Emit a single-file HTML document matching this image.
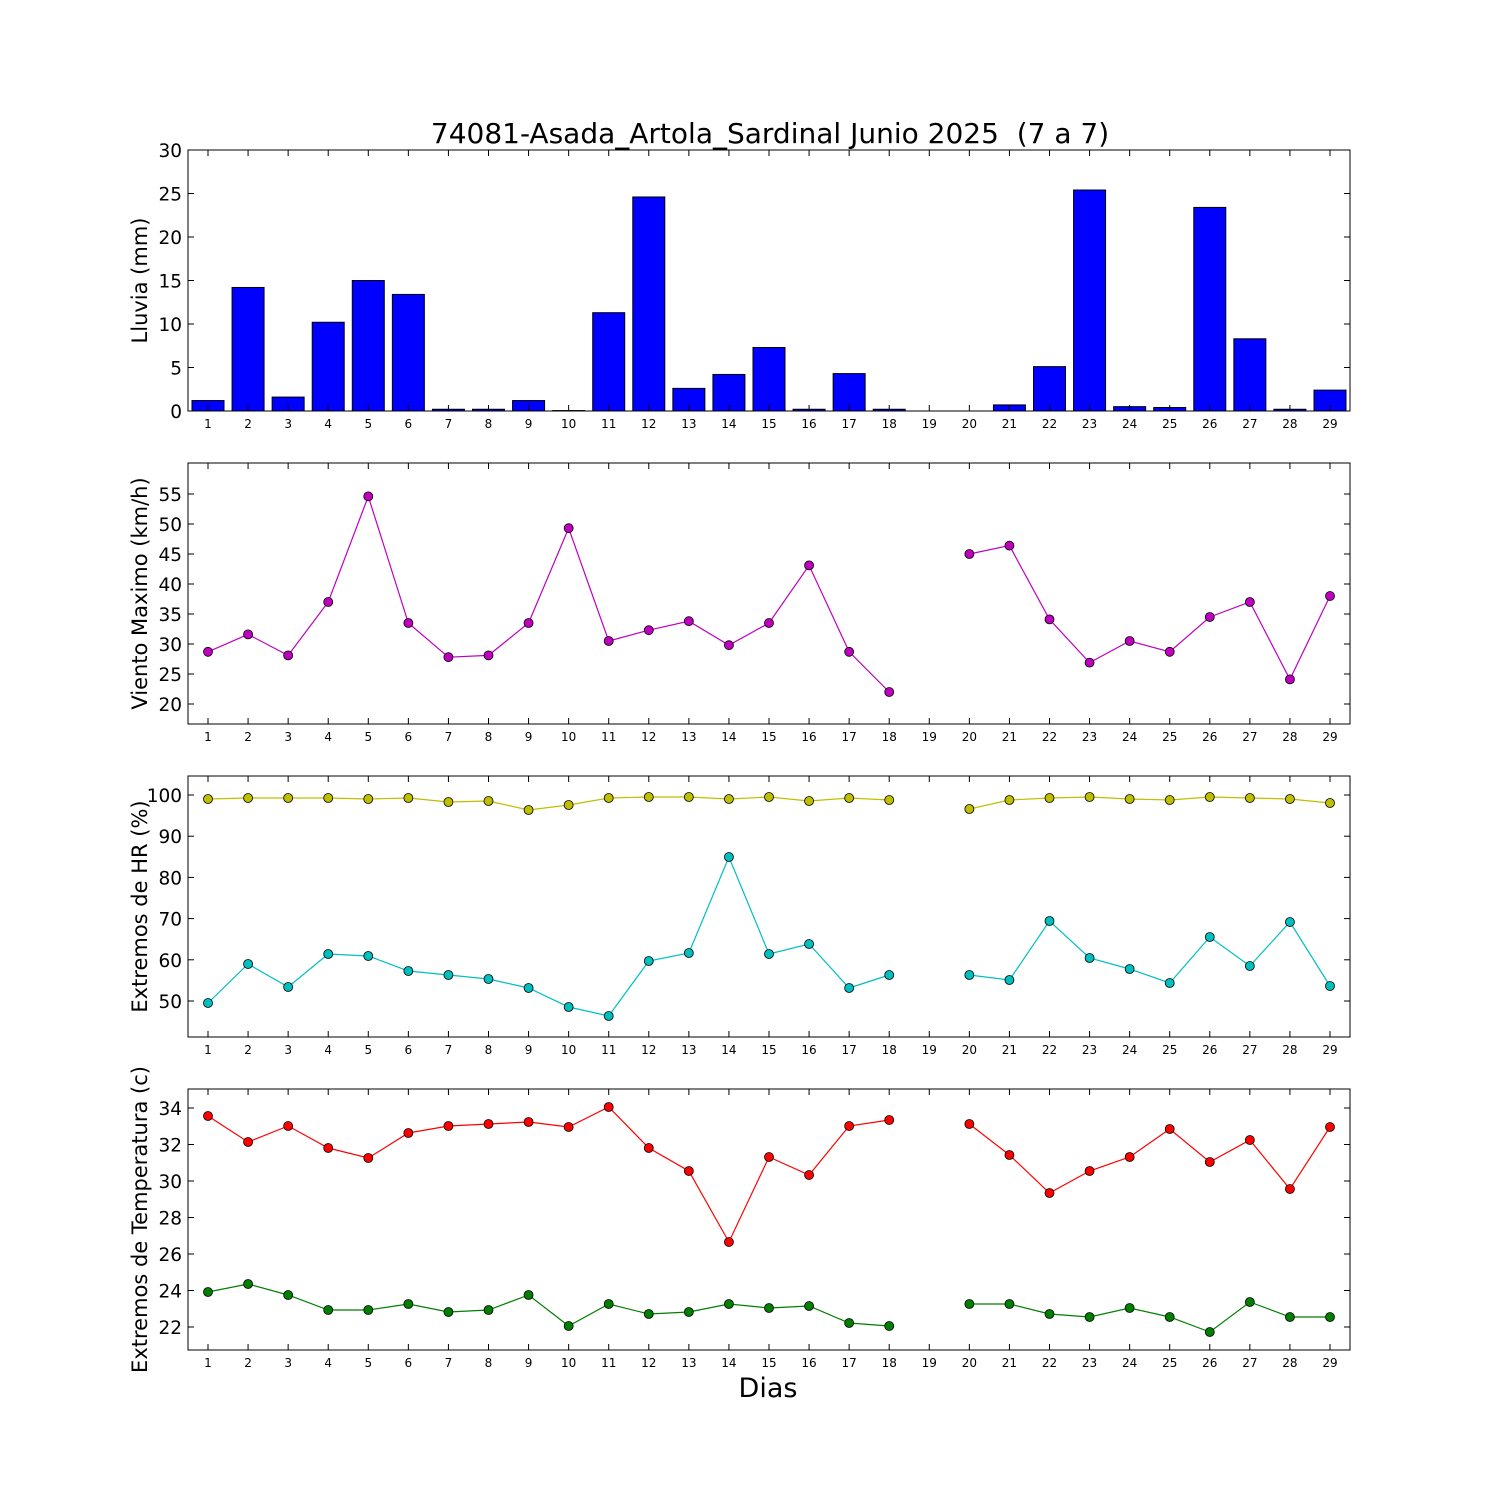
<!DOCTYPE html>
<html><head><meta charset="utf-8"><style>
html,body{margin:0;padding:0;background:#fff;}
svg{display:block;}
text{font-family:"DejaVu Sans","Liberation Sans",sans-serif;fill:#000;}
</style></head><body>
<svg id="s" width="1500" height="1500" xmlns="http://www.w3.org/2000/svg">
<rect width="1500" height="1500" fill="#fff"/>
<text x="770" y="143" font-size="28" text-anchor="middle">74081-Asada_Artola_Sardinal Junio 2025 &#160;(7 a 7)</text>
<text x="768" y="1397" font-size="27" text-anchor="middle">Dias</text>
</svg>
<script>
var s=document.getElementById('s'),NS='http://www.w3.org/2000/svg';
function el(t,a,txt){var e=document.createElementNS(NS,t);for(var k in a)e.setAttribute(k,a[k]);if(txt!==undefined)e.textContent=txt;s.appendChild(e);return e;}
var L=188,R=1350;
function X(d){return 208+(1330-208)/28*(d-1);}
function panel(top,bot,ticks,yf,label){
  ticks.forEach(function(v){var y=yf(v);
    el('line',{x1:L,x2:L+6,y1:y,y2:y,stroke:'#000'});
    el('line',{x1:R-6,x2:R,y1:y,y2:y,stroke:'#000'});
    el('text',{x:L-6,y:y+7,'font-size':18.5,'text-anchor':'end'},String(v));});
  for(var d=1;d<=29;d++){var x=X(d);
    el('line',{x1:x,x2:x,y1:bot,y2:bot-6,stroke:'#000'});
    el('line',{x1:x,x2:x,y1:top,y2:top+6,stroke:'#000'});
    el('text',{x:x,y:bot+17,'font-size':12,'text-anchor':'middle'},String(d));}
  var cy=(top+bot)/2;
  el('text',{x:0,y:0,'font-size':21,'text-anchor':'middle',transform:'translate(147,'+cy+') rotate(-90)'},label);
}
function frame(top,bot){el('rect',{x:L,y:top,width:R-L,height:bot-top,fill:'none',stroke:'#000','stroke-width':1});}
function series(ys,color){
  var segs=[[]];ys.forEach(function(y,i){if(y===null){segs.push([]);}else segs[segs.length-1].push([X(i+1),y]);});
  segs.forEach(function(sg){if(sg.length>1)el('polyline',{points:sg.map(function(p){return p.join(',')}).join(' '),fill:'none',stroke:color,'stroke-width':1.2});});
  ys.forEach(function(y,i){if(y!==null)el('circle',{cx:X(i+1),cy:y,r:4.5,fill:color,stroke:'#000','stroke-width':0.8});});
}
var rain=[1.2,14.2,1.6,10.2,15,13.4,0.2,0.2,1.2,0.05,11.3,24.6,2.6,4.2,7.3,0.2,4.3,0.2,0,0,0.7,5.1,25.4,0.5,0.4,23.4,8.3,0.2,2.4];
var y1=function(v){return 411-v*261/30;};
rain.forEach(function(v,i){if(v>0){var x=X(i+1);el('rect',{x:x-16,y:y1(v),width:32,height:411-y1(v),fill:'#0000ff',stroke:'#000','stroke-width':1});}});
panel(150,411,[0,5,10,15,20,25,30],y1,'Lluvia (mm)');frame(150,411);
var y2=function(v){return 704-(v-20)*6;};
var wind=[28.7,31.6,28.1,37,54.6,33.5,27.8,28.1,33.5,49.3,30.5,32.3,33.8,29.8,33.5,43.1,28.7,22,null,45,46.4,34.1,26.9,30.5,28.7,34.5,37,24.1,38];
panel(463,724,[20,25,30,35,40,45,50,55],y2,'Viento Maximo (km/h)');
series(wind.map(function(v){return v===null?null:y2(v);}),'#bf00bf');frame(463,724);
var y3=function(v){return 1001-(v-50)*4.12;};
panel(776,1037,[50,60,70,80,90,100],y3,'Extremos de HR (%)');
series([799,798,798,798,799,798,802,801,810,805,798,797,797,799,797,801,798,800,null,809,800,798,797,799,800,797,798,799,803],'#bfbf00');
series([1003,964,987,954,956,971,975,979,988,1007,1016,961,953,857,954,944,988,975,null,975,980,921,958,969,983,937,966,922,986],'#00bfbf');
frame(776,1037);
var y4=function(v){return 1327-(v-22)*18.25;};
panel(1089,1350,[22,24,26,28,30,32,34],y4,'Extremos de Temperatura (c)');
series([1116,1142,1126,1148,1158,1133,1126,1124,1122,1127,1107,1148,1171,1242,1157,1175,1126,1120,null,1124,1155,1193,1171,1157,1129,1162,1140,1189,1127],'#ff0000');
series([1292,1284,1295,1310,1310,1304,1312,1310,1295,1326,1304,1314,1312,1304,1308,1306,1323,1326,null,1304,1304,1314,1317,1308,1317,1332,1302,1317,1317],'#007f00');
frame(1089,1350);
</script>
</body></html>
